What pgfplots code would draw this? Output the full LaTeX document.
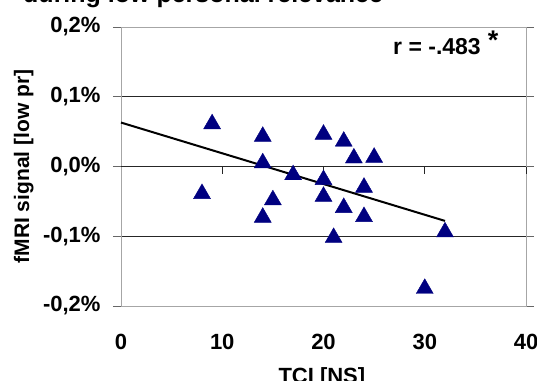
\documentclass[border=0pt]{standalone}
\usepackage{pgfplots}
\pgfplotsset{compat=1.18}
\usepackage{fontspec}
\setmainfont{Liberation Sans}
\definecolor{navy}{HTML}{000080}
\newcommand{\chfont}{\bfseries\fontsize{22bp}{26bp}\selectfont}
\begin{document}
\begin{tikzpicture}[x=1bp,y=1bp]
\begin{axis}[
  at={(121bp,75bp)}, anchor=south west,
  scale only axis, width=405bp, height=279bp,
  xmin=0, xmax=40, ymin=-0.2, ymax=0.2,
  xtick={0,10,20,30,40}, xticklabels={0,10,20,30,40},
  ytick={-0.2,-0.1,0,0.1,0.2},
  yticklabels={{-0,2\%},{-0,1\%},{0,0\%},{0,1\%},{0,2\%}},
  x tick style={draw=none},
  y tick style={draw=gray!80!black, line width=0.9bp},
  tick align=outside, major tick length=8bp,
  axis line style={draw=gray!70, line width=1bp},
  ymajorgrids, major grid style={draw=black!85, line width=1bp},
  tick label style={font=\chfont},
  yticklabel style={anchor=east, xshift=-9bp},
  xticklabel style={anchor=base, yshift=-35bp},
  label style={font=\chfont},
  xlabel={TCI [NS]},
  xlabel style={at={(axis description cs:0.496,-0.276)}, anchor=base},
  ylabel={fMRI signal [low pr]},
  ylabel style={font=\bfseries\fontsize{21bp}{25bp}\selectfont, at={(axis description cs:-0.24,0.5)}, anchor=center},
  clip=false,
]
\draw[black!85, line width=1bp] (axis cs:0,0) -- (axis cs:40,0);
\draw[black!85, line width=1bp] (axis cs:10,0) -- ([yshift=-7bp]axis cs:10,0);
\draw[black!85, line width=1bp] (axis cs:20,0) -- ([yshift=-7bp]axis cs:20,0);
\draw[black!85, line width=1bp] (axis cs:30,0) -- ([yshift=-7bp]axis cs:30,0);
\draw[black!85, line width=1bp] (axis cs:40,0) -- ([yshift=-7bp]axis cs:40,0);
\addplot[black, line width=2bp] coordinates {(0,0.063) (32,-0.078)};
\addplot[only marks, mark=triangle*, mark size=9.8bp, mark options={fill=navy, draw=navy}] coordinates {
(8,-0.039) (9,0.061) (14,0.043) (14,0.005) (14,-0.073) (15,-0.048)
(17,-0.012) (20,0.046) (20,-0.019) (20,-0.043) (22,0.036) (23,0.012)
(25,0.013) (22,-0.059) (24,-0.030) (24,-0.072) (21,-0.102) (32,-0.094)
(30,-0.175)
};
\end{axis}
\node[font=\bfseries\fontsize{23bp}{27bp}\selectfont, anchor=base west, inner sep=0pt] at (393bp,326bp) {r = -.483\hspace{7bp}\raisebox{5bp}{\fontsize{27bp}{30bp}\selectfont *}};
\node[font=\bfseries\fontsize{25bp}{29bp}\selectfont, anchor=base west, inner sep=0pt] at (23bp,378bp) {during low personal relevance};
\pgfresetboundingbox
\useasboundingbox (0,0) rectangle (537bp,381bp);
\end{tikzpicture}
\end{document}
